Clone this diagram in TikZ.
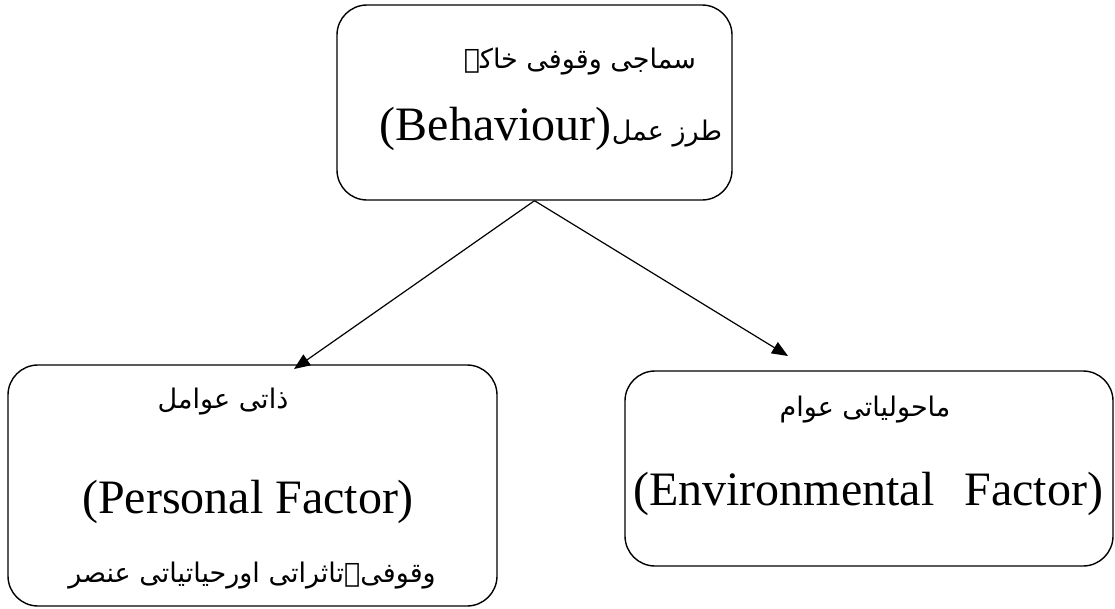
\documentclass[tikz,border=0pt]{standalone}
\usepackage{fontspec}
\setmainfont{Liberation Serif}
\newfontfamily\urdu[Script=Arabic]{DejaVu Sans}
\TeXXeTstate=1
\usetikzlibrary{arrows.meta}
\tikzset{
  box/.style={draw=black, line width=1.4pt, rounded corners=30pt, inner sep=0pt},
  en/.style={font=\fontsize{48}{56}\selectfont, inner sep=0pt},
  ur/.style={font=\urdu\fontsize{27}{32}\selectfont, inner sep=0pt},
  conn/.style={draw=black, line width=1.2pt, -{Triangle[length=16pt,width=13pt]}}
}
\begin{document}
\begin{tikzpicture}[x=1pt,y=-1pt]
\useasboundingbox (0,0) rectangle (1115,608);
% boxes
\node[box, minimum width=395pt, minimum height=195pt] (top) at (534.5,102.5) {};
\node[box, minimum width=489pt, minimum height=241pt] (left) at (252.5,485.5) {};
\node[box, minimum width=488pt, minimum height=195pt] (right) at (869,468.5) {};
% texts
\node[ur] (t1) at (580,62) {\beginR سماجی وقوفی خاکہ\endR};
\node[inner sep=0pt, anchor=base] (t2) at (551,140) {{\fontsize{48}{56}\selectfont (Behaviour)}{\urdu\fontsize{27}{32}\selectfont\beginR طرز عمل\endR}};
\node[ur] (l1) at (223,402) {\beginR ذاتی عوامل\endR};
\node[en] (l2) at (248,502) {(Personal Factor)};
\node[ur] (l3) at (252,576) {\beginR وقوفی۔تاثراتی اورحیاتیاتی عنصر\endR};
\node[ur] (r1) at (865,410) {\beginR ماحولیاتی عوام\endR};
\node[en] (r2) at (868,494) {(Environmental\hspace{30pt}Factor)};
% connectors
\coordinate (lt) at (294,369);
\coordinate (rt) at (788,356);
\draw[conn] (top.south) -- (lt);
\draw[conn] (top.south) -- (rt);
\end{tikzpicture}
\end{document}
